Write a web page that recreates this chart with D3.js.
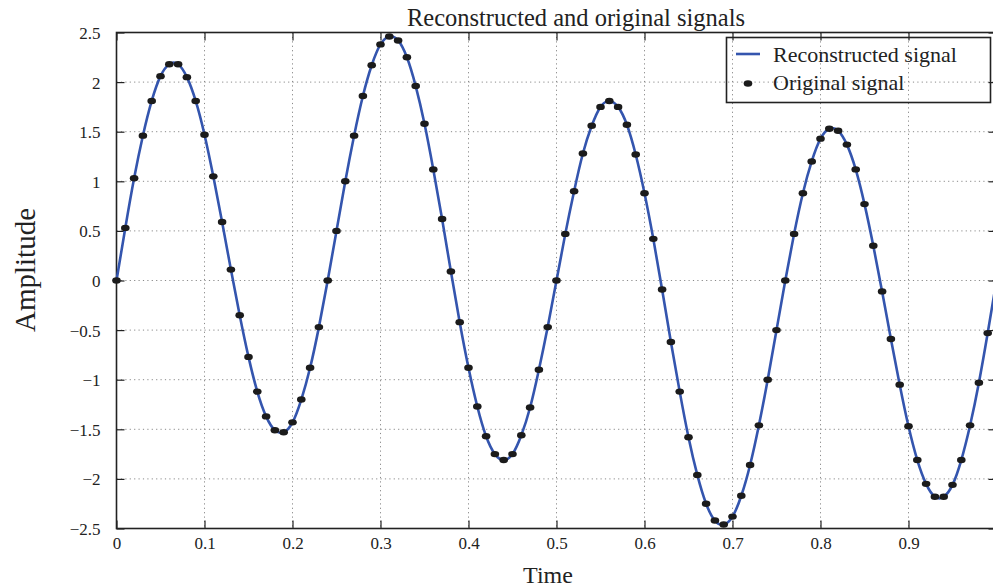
<!DOCTYPE html>
<html>
<head>
<meta charset="utf-8">
<script src="https://cdn.jsdelivr.net/npm/d3@7/dist/d3.min.js"></script>
<style>
  html, body { margin: 0; padding: 0; background: #fff; overflow: hidden; }
  svg { display: block; }
  text { font-family: "Liberation Serif", "Times New Roman", serif; fill: #222; }
</style>
</head>
<body>
<svg id="chart" width="993" height="588"></svg>
<script>
// Sampled signal (100 samples per second over one second)
const sampleRate = 100;
const originalValues = [
  0.00, 0.53, 1.03, 1.46, 1.81, 2.06, 2.18, 2.18, 2.05, 1.81,
  1.47, 1.05, 0.59, 0.11, -0.35, -0.77, -1.12, -1.37, -1.51, -1.53,
  -1.43, -1.20, -0.88, -0.47, 0.00, 0.50, 1.00, 1.46, 1.86, 2.17,
  2.38, 2.46, 2.42, 2.25, 1.96, 1.58, 1.12, 0.62, 0.09, -0.42,
  -0.88, -1.27, -1.57, -1.75, -1.81, -1.75, -1.56, -1.28, -0.90, -0.47,
  0.00, 0.47, 0.90, 1.28, 1.56, 1.75, 1.81, 1.75, 1.57, 1.27,
  0.88, 0.42, -0.09, -0.62, -1.12, -1.58, -1.96, -2.25, -2.42, -2.46,
  -2.38, -2.17, -1.86, -1.46, -1.00, -0.50, 0.00, 0.47, 0.88, 1.20,
  1.43, 1.53, 1.51, 1.37, 1.12, 0.77, 0.35, -0.11, -0.59, -1.05,
  -1.47, -1.81, -2.05, -2.18, -2.18, -2.06, -1.81, -1.46, -1.03, -0.53
];
// Reconstructed signal continues one sample past the last measurement
const reconstructedTail = [0.00];

const xTicks = [0, 0.1, 0.2, 0.3, 0.4, 0.5, 0.6, 0.7, 0.8, 0.9];
const xTickLabels = ["0", "0.1", "0.2", "0.3", "0.4", "0.5", "0.6", "0.7", "0.8", "0.9"];
const yTicks = [2.5, 2, 1.5, 1, 0.5, 0, -0.5, -1, -1.5, -2, -2.5];
const yTickLabels = ["2.5", "2", "1.5", "1", "0.5", "0", "\u22120.5", "\u22121", "\u22121.5", "\u22122", "\u22122.5"];

const titleText = "Reconstructed and original signals";
const xLabel = "Time";
const yLabel = "Amplitude";
const legendLabels = ["Reconstructed signal", "Original signal"];

const originalPoints = originalValues.map((v, i) => ({ t: i / sampleRate, v }));
const reconstructedPoints = originalValues.concat(reconstructedTail)
  .map((v, i) => ({ t: i / sampleRate, v }));

const svg = d3.select("#chart");
const plotLeft = 116.5, plotRight = 996.5, plotTop = 32.5, plotBottom = 528.5;

const x = d3.scaleLinear().domain([0, 1]).range([plotLeft, plotRight]);
const y = d3.scaleLinear().domain([-2.5, 2.5]).range([plotBottom, plotTop]);

const lineColor = "#3455ae";
const axisColor = "#222";
const gridColor = "#8a8a8a";
const tickLen = 8;

// Grid lines
const grid = svg.append("g");
grid.selectAll("line.gx").data(xTicks.filter(d => d > 0)).join("line")
  .attr("class", "gx")
  .attr("x1", d => x(d)).attr("x2", d => x(d))
  .attr("y1", plotTop).attr("y2", plotBottom)
  .attr("stroke", gridColor).attr("stroke-width", 1)
  .attr("stroke-dasharray", "1.2,3.2");
grid.selectAll("line.gy").data(yTicks.filter(d => d > -2.5 && d < 2.5)).join("line")
  .attr("class", "gy")
  .attr("x1", plotLeft).attr("x2", plotRight)
  .attr("y1", d => y(d)).attr("y2", d => y(d))
  .attr("stroke", gridColor).attr("stroke-width", 1)
  .attr("stroke-dasharray", "1.2,3.2");

// Axes with inward ticks on all four sides
const axisBottom = d3.axisBottom(x).tickValues(xTicks)
  .tickFormat((d, i) => xTickLabels[i]).tickSizeInner(-tickLen).tickSizeOuter(0).tickPadding(8);
const axisTop = d3.axisTop(x).tickValues(xTicks)
  .tickFormat("").tickSizeInner(-tickLen).tickSizeOuter(0);
const axisLeft = d3.axisLeft(y).tickValues(yTicks)
  .tickFormat((d, i) => yTickLabels[i]).tickSizeInner(-tickLen).tickSizeOuter(0).tickPadding(16);
const axisRight = d3.axisRight(y).tickValues(yTicks)
  .tickFormat("").tickSizeInner(-tickLen).tickSizeOuter(0);

function styleAxis(g) {
  g.select(".domain").remove();
  g.selectAll(".tick line").attr("stroke", axisColor).attr("stroke-width", 1.2);
  g.selectAll(".tick text").attr("fill", "#222")
    .style("font-family", '"Liberation Serif", "Times New Roman", serif')
    .style("font-size", "17px");
}

svg.append("g").attr("transform", `translate(0,${plotBottom})`).call(axisBottom).call(styleAxis);
svg.append("g").attr("transform", `translate(0,${plotTop})`).call(axisTop).call(styleAxis);
svg.append("g").attr("transform", `translate(${plotLeft},0)`).call(axisLeft).call(styleAxis)
  .selectAll(".tick text").attr("dy", "0.35em");
svg.append("g").attr("transform", `translate(${plotRight},0)`).call(axisRight).call(styleAxis);

// Plot frame
svg.append("rect")
  .attr("x", plotLeft).attr("y", plotTop)
  .attr("width", plotRight - plotLeft).attr("height", plotBottom - plotTop)
  .attr("fill", "none").attr("stroke", axisColor).attr("stroke-width", 1.6);

// Clip region for data marks
svg.append("clipPath").attr("id", "plotClip")
  .append("rect").attr("x", plotLeft - 6).attr("y", plotTop - 6)
  .attr("width", plotRight - plotLeft + 6).attr("height", plotBottom - plotTop + 12);

const plot = svg.append("g").attr("clip-path", "url(#plotClip)");

const line = d3.line()
  .x(d => x(d.t)).y(d => y(d.v))
  .curve(d3.curveNatural);

plot.append("path")
  .datum(reconstructedPoints)
  .attr("d", line)
  .attr("fill", "none")
  .attr("stroke", lineColor)
  .attr("stroke-width", 2.6)
  .attr("stroke-linejoin", "round");

// Sample markers
plot.selectAll("ellipse.sample").data(originalPoints).join("ellipse")
  .attr("class", "sample")
  .attr("cx", d => x(d.t)).attr("cy", d => y(d.v))
  .attr("rx", 4.3).attr("ry", 3.2)
  .attr("fill", "#1b1b1b");

// Legend (transparent background, framed)
const legend = svg.append("g");
legend.append("rect")
  .attr("x", 726.5).attr("y", 37.5).attr("width", 264).attr("height", 65)
  .attr("fill", "none").attr("stroke", axisColor).attr("stroke-width", 1.6);
legend.append("line")
  .attr("x1", 736).attr("x2", 760).attr("y1", 54).attr("y2", 54)
  .attr("stroke", lineColor).attr("stroke-width", 2.6);
legend.append("ellipse")
  .attr("cx", 748).attr("cy", 83.5).attr("rx", 4.3).attr("ry", 3.2)
  .attr("fill", "#1b1b1b");
legend.selectAll("text").data(legendLabels).join("text")
  .attr("x", 773).attr("y", (d, i) => 62 + i * 28)
  .style("font-size", "22px")
  .text(d => d);

// Title and axis labels
svg.append("text")
  .attr("x", 576).attr("y", 26)
  .attr("text-anchor", "middle")
  .style("font-size", "24.5px")
  .text(titleText);

svg.append("text")
  .attr("x", 548).attr("y", 583)
  .attr("text-anchor", "middle")
  .style("font-size", "24px")
  .text(xLabel);

svg.append("text")
  .attr("transform", "translate(35,270) rotate(-90)")
  .attr("text-anchor", "middle")
  .style("font-size", "29px")
  .text(yLabel);
</script>
</body>
</html>
